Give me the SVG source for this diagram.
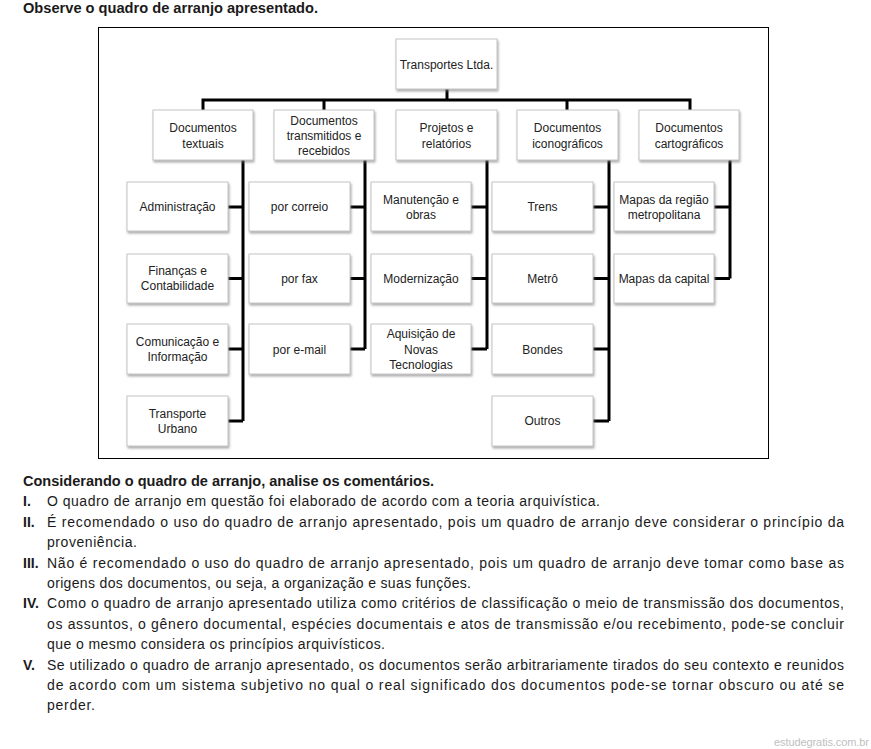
<svg xmlns="http://www.w3.org/2000/svg" width="871" height="749" viewBox="0 0 871 749">
<defs>
<filter id="sh" x="-10%" y="-10%" width="125%" height="130%">
<feDropShadow dx="1" dy="2" stdDeviation="1" flood-color="#777" flood-opacity="0.6"/>
</filter>
<style>
.bx{fill:#fff;stroke:#c4c4c4;stroke-width:1;filter:url(#sh)}
.bt{font-family:"Liberation Sans",Arial,sans-serif;font-size:12px;fill:#222;text-anchor:middle}
.tx{font-family:"Liberation Sans",Arial,sans-serif;font-size:14px;fill:#1a1a1a}
.b{font-weight:bold}
.cn{fill:none;stroke:#000;stroke-width:3;stroke-linejoin:miter}
</style>
</defs>
<rect width="871" height="749" fill="#fff"/>
<text class="tx b" x="23" y="13" textLength="295" lengthAdjust="spacingAndGlyphs">Observe o quadro de arranjo apresentado.</text>
<rect x="98.5" y="27.5" width="670" height="431" fill="none" stroke="#000" stroke-width="1"/>

<g id="connectors">
<path class="cn" d="M447,89V100M203,110V100H690V110M324,100V110M567,100V110"/>
<path class="cn" d="M243,160V421M228,207H243M228,278.5H243M228,349H243M228,421H243"/>
<path class="cn" d="M365,160V349M350,207H365M350,278.5H365M350,349H365"/>
<path class="cn" d="M487,160V349M471,207H487M471,278.5H487M471,349H487"/>
<path class="cn" d="M609,160V421M593,207H609M593,278.5H609M593,349H609M593,421H609"/>
<path class="cn" d="M730,160V278.5M714,207H730M714,278.5H730"/>
</g>

<g id="root"><rect class="bx" x="396" y="39" width="101" height="50"/><text class="bt" x="446.5" y="69">Transportes Ltda.</text></g>

<g id="l1-textuais"><rect class="bx" x="153" y="110" width="100" height="50"/><text class="bt" x="203" y="132">Documentos</text><text class="bt" x="203" y="147.5">textuais</text></g>
<g id="l1-transmitidos"><rect class="bx" x="274" y="110" width="100" height="50"/><text class="bt" x="324" y="125">Documentos</text><text class="bt" x="324" y="140">transmitidos e</text><text class="bt" x="324" y="155">recebidos</text></g>
<g id="l1-projetos"><rect class="bx" x="396" y="110" width="101" height="50"/><text class="bt" x="446.5" y="132">Projetos e</text><text class="bt" x="446.5" y="147.5">relatórios</text></g>
<g id="l1-iconograficos"><rect class="bx" x="517" y="110" width="101" height="50"/><text class="bt" x="567.5" y="132">Documentos</text><text class="bt" x="567.5" y="147.5">iconográficos</text></g>
<g id="l1-cartograficos"><rect class="bx" x="639" y="110" width="100" height="50"/><text class="bt" x="689" y="132">Documentos</text><text class="bt" x="689" y="147.5">cartográficos</text></g>

<g id="administracao"><rect class="bx" x="127" y="182" width="101" height="49"/><text class="bt" x="177.5" y="211">Administração</text></g>
<g id="financas"><rect class="bx" x="127" y="254" width="101" height="49"/><text class="bt" x="177.5" y="275">Finanças e</text><text class="bt" x="177.5" y="290">Contabilidade</text></g>
<g id="comunicacao"><rect class="bx" x="127" y="324" width="101" height="50"/><text class="bt" x="177.5" y="346">Comunicação e</text><text class="bt" x="177.5" y="361">Informação</text></g>
<g id="transporte-urbano"><rect class="bx" x="127" y="396" width="101" height="50"/><text class="bt" x="177.5" y="418">Transporte</text><text class="bt" x="177.5" y="433">Urbano</text></g>

<g id="correio"><rect class="bx" x="249" y="182" width="101" height="49"/><text class="bt" x="299.5" y="211">por correio</text></g>
<g id="fax"><rect class="bx" x="249" y="254" width="101" height="49"/><text class="bt" x="299.5" y="283">por fax</text></g>
<g id="email"><rect class="bx" x="249" y="324" width="101" height="50"/><text class="bt" x="299.5" y="353.5">por e-mail</text></g>

<g id="manutencao"><rect class="bx" x="371" y="182" width="100" height="49"/><text class="bt" x="421" y="204">Manutenção e</text><text class="bt" x="421" y="219">obras</text></g>
<g id="modernizacao"><rect class="bx" x="371" y="254" width="100" height="49"/><text class="bt" x="421" y="283">Modernização</text></g>
<g id="aquisicao"><rect class="bx" x="371" y="324" width="100" height="50"/><text class="bt" x="421" y="338">Aquisição de</text><text class="bt" x="421" y="353.5">Novas</text><text class="bt" x="421" y="369">Tecnologias</text></g>

<g id="trens"><rect class="bx" x="492" y="182" width="101" height="49"/><text class="bt" x="542.5" y="211">Trens</text></g>
<g id="metro"><rect class="bx" x="492" y="254" width="101" height="49"/><text class="bt" x="542.5" y="283">Metrô</text></g>
<g id="bondes"><rect class="bx" x="492" y="324" width="101" height="50"/><text class="bt" x="542.5" y="353.5">Bondes</text></g>
<g id="outros"><rect class="bx" x="492" y="396" width="101" height="50"/><text class="bt" x="542.5" y="425">Outros</text></g>

<g id="mapas-regiao"><rect class="bx" x="614" y="182" width="100" height="49"/><text class="bt" x="664" y="204">Mapas da região</text><text class="bt" x="664" y="219">metropolitana</text></g>
<g id="mapas-capital"><rect class="bx" x="614" y="254" width="100" height="49"/><text class="bt" x="664" y="283">Mapas da capital</text></g>

<g id="comentarios">
<text class="tx b" x="23" y="486" textLength="411" lengthAdjust="spacingAndGlyphs">Considerando o quadro de arranjo, analise os comentários.</text>
<text class="tx b" x="23" y="506.4">I.</text>
<text class="tx" x="47" y="506.4" textLength="553" lengthAdjust="spacing">O quadro de arranjo em questão foi elaborado de acordo com a teoria arquivística.</text>
<text class="tx b" x="23" y="526.8">II.</text>
<text class="tx" x="47" y="526.8" textLength="797" lengthAdjust="spacing">É recomendado o uso do quadro de arranjo apresentado, pois um quadro de arranjo deve considerar o princípio da</text>
<text class="tx" x="47" y="547.2" textLength="90" lengthAdjust="spacing">proveniência.</text>
<text class="tx b" x="23" y="567.6">III.</text>
<text class="tx" x="47" y="567.6" textLength="797" lengthAdjust="spacing">Não é recomendado o uso do quadro de arranjo apresentado, pois um quadro de arranjo deve tomar como base as</text>
<text class="tx" x="47" y="588" textLength="424" lengthAdjust="spacing">origens dos documentos, ou seja, a organização e suas funções.</text>
<text class="tx b" x="23" y="608.4">IV.</text>
<text class="tx" x="47" y="608.4" textLength="797" lengthAdjust="spacing">Como o quadro de arranjo apresentado utiliza como critérios de classificação o meio de transmissão dos documentos,</text>
<text class="tx" x="47" y="628.8" textLength="797" lengthAdjust="spacing">os assuntos, o gênero documental, espécies documentais e atos de transmissão e/ou recebimento, pode-se concluir</text>
<text class="tx" x="47" y="649.2" textLength="338" lengthAdjust="spacing">que o mesmo considera os princípios arquivísticos.</text>
<text class="tx b" x="23" y="669.6">V.</text>
<text class="tx" x="47" y="669.6" textLength="797" lengthAdjust="spacing">Se utilizado o quadro de arranjo apresentado, os documentos serão arbitrariamente tirados do seu contexto e reunidos</text>
<text class="tx" x="47" y="690" textLength="797" lengthAdjust="spacing">de acordo com um sistema subjetivo no qual o real significado dos documentos pode-se tornar obscuro ou até se</text>
<text class="tx" x="47" y="710.4" textLength="48" lengthAdjust="spacing">perder.</text>
</g>
<text x="774" y="745.5" font-family="Liberation Sans, Arial, sans-serif" font-size="11" fill="#c0c0c0" textLength="95" lengthAdjust="spacing">estudegratis.com.br</text>
</svg>
